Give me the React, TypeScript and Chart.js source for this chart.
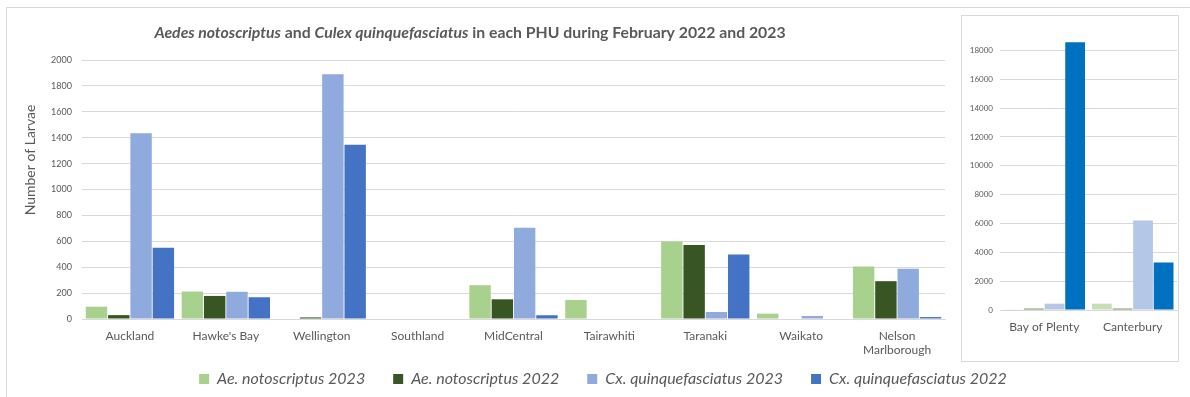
import React, { useEffect, useRef } from "react";
import { Chart, registerables } from "chart.js";

Chart.register(...registerables);

// ---------- Data ----------
const mainCategories: (string | string[])[] = [
  "Auckland",
  "Hawke's Bay",
  "Wellington",
  "Southland",
  "MidCentral",
  "Tairawhiti",
  "Taranaki",
  "Waikato",
  ["Nelson", "Marlborough"],
];
const aeNoto2023 = [95, 212, 0, 0, 261, 147, 599, 41, 405];
const aeNoto2022 = [30, 178, 12, 0, 152, 0, 571, 0, 292];
const cxQuinq2023 = [1435, 210, 1890, 0, 705, 0, 54, 23, 388];
const cxQuinq2022 = [550, 168, 1345, 0, 29, 0, 499, 0, 15];

const insetCategories = ["Bay of Plenty", "Canterbury"];
const insetAeNoto2023 = [50, 440];
const insetAeNoto2022 = [100, 100];
const insetCxQuinq2023 = [440, 6200];
const insetCxQuinq2022 = [18560, 3290];

const seriesLabels = [
  "Ae. notoscriptus 2023",
  "Ae. notoscriptus 2022",
  "Cx. quinquefasciatus 2023",
  "Cx. quinquefasciatus 2022",
];
const mainColors = ["#a9d18e", "#375623", "#8faadc", "#4472c4"];
const insetColors = ["#c5e0b4", "#6f8a57", "#b4c7e7", "#0070c0"];

const titleSegments = [
  { text: "Aedes notoscriptus", italic: true },
  { text: " and ", italic: false },
  { text: "Culex quinquefasciatus", italic: true },
  { text: " in each PHU during February 2022 and 2023", italic: false },
];
const yAxisTitle = "Number of Larvae";

const FONT = "Lato, 'Open Sans', sans-serif";
const TEXT = "#595959";
const GRID = "#d9d9d9";

const titlePlugin = {
  id: "mixedTitle",
  afterLayout(chart: any) {
    // let the two-line category labels extend below the (short) x-axis box
    if (chart.scales.x) chart.scales.x.bottom = chart.height;
  },
  afterDraw(chart: any) {
    const ctx = chart.ctx;
    ctx.save();
    const size = 15.8;
    const fonts = titleSegments.map(
      (s) => `${s.italic ? "italic " : ""}bold ${size}px ${FONT}`
    );
    let total = 0;
    const widths = titleSegments.map((s, i) => {
      ctx.font = fonts[i];
      const w = ctx.measureText(s.text).width;
      total += w;
      return w;
    });
    let x = 463 - total / 2;
    const y = 25;
    ctx.fillStyle = TEXT;
    ctx.textBaseline = "middle";
    ctx.textAlign = "left";
    titleSegments.forEach((s, i) => {
      ctx.font = fonts[i];
      ctx.fillText(s.text, x, y);
      x += widths[i];
    });
    // y-axis title
    ctx.translate(23, 152);
    ctx.rotate(-Math.PI / 2);
    ctx.textAlign = "center";
    ctx.font = `14px ${FONT}`;
    ctx.fillText(yAxisTitle, 0, 0);
    ctx.restore();
  },
};

function MainChart() {
  const ref = useRef<HTMLCanvasElement>(null);
  useEffect(() => {
    if (!ref.current) return;
    const series = [aeNoto2023, aeNoto2022, cxQuinq2023, cxQuinq2022];
    const chart = new Chart(ref.current, {
      type: "bar",
      data: {
        labels: mainCategories,
        datasets: series.map((d, i) => ({
          label: seriesLabels[i],
          data: d,
          backgroundColor: mainColors[i],
          borderWidth: 0,
          categoryPercentage: 0.93,
          barPercentage: 0.96,
          yAxisID: "y",
        })),
      },
      options: {
        animation: false,
        responsive: true,
        maintainAspectRatio: false,
        layout: { padding: { top: 52, left: 14, right: 0, bottom: 0 } },
        plugins: {
          tooltip: { enabled: false },
          title: { display: false },
          legend: {
            position: "bottom",
            labels: {
              boxWidth: 10,
              boxHeight: 10,
              padding: 28,
              color: TEXT,
              font: { family: FONT, size: 16, style: "italic" },
            },
          },
        },
        scales: {
          x: {
            grid: { display: false, drawTicks: false },
            border: { color: GRID },
            ticks: {
              color: TEXT,
              font: { family: FONT, size: 12 },
              padding: 10,
              maxRotation: 0,
              autoSkip: false,
            },
            afterFit(s: any) {
              s.height = 24;
            },
          },
          y: {
            min: 0,
            max: 2000,
            ticks: {
              stepSize: 200,
              color: TEXT,
              font: { family: FONT, size: 9 },
              padding: 10,
              callback: (v: any) => String(v),
            },
            grid: { color: GRID, drawTicks: false },
            border: { display: false },
            afterFit(s: any) {
              s.width = 61;
            },
          },
          yRight: {
            position: "right",
            display: true,
            grid: { display: false },
            ticks: { display: false },
            border: { display: false },
            afterFit(s: any) {
              s.width = 240;
            },
          },
        },
      } as any,
      plugins: [titlePlugin],
    });
    return () => chart.destroy();
  }, []);
  return (
    <div
      style={{
        position: "absolute",
        left: 7,
        top: 8,
        width: 1178,
        height: 389,
      }}
    >
      <canvas ref={ref} />
    </div>
  );
}

function InsetChart() {
  const ref = useRef<HTMLCanvasElement>(null);
  useEffect(() => {
    if (!ref.current) return;
    const series = [
      insetAeNoto2023,
      insetAeNoto2022,
      insetCxQuinq2023,
      insetCxQuinq2022,
    ];
    const chart = new Chart(ref.current, {
      type: "bar",
      data: {
        labels: insetCategories,
        datasets: series.map((d, i) => ({
          label: seriesLabels[i],
          data: d,
          backgroundColor: insetColors[i],
          borderWidth: 0,
          categoryPercentage: 0.93,
          barPercentage: 0.96,
        })),
      },
      options: {
        animation: false,
        responsive: true,
        maintainAspectRatio: false,
        layout: { padding: { top: 20, left: 0, right: 1, bottom: 0 } },
        plugins: {
          tooltip: { enabled: false },
          legend: { display: false },
        },
        scales: {
          x: {
            grid: { display: false, drawTicks: false },
            border: { color: GRID },
            ticks: {
              color: TEXT,
              font: { family: FONT, size: 12 },
              padding: 10,
              maxRotation: 0,
              autoSkip: false,
            },
            afterFit(s: any) {
              s.height = 51;
            },
          },
          y: {
            min: 0,
            max: 19000,
            ticks: {
              stepSize: 1000,
              autoSkip: false,
              color: TEXT,
              font: { family: FONT, size: 8 },
              padding: 7,
              callback: (v: any) => (v % 2000 === 0 ? String(v) : null),
            },
            grid: { color: GRID, drawTicks: false },
            border: { display: false },
            afterFit(s: any) {
              s.width = 38;
            },
          },
        },
      } as any,
    });
    return () => chart.destroy();
  }, []);
  return (
    <div
      style={{
        position: "absolute",
        left: 961,
        top: 15,
        width: 216,
        height: 345,
        border: `1px solid ${GRID}`,
        background: "#fff",
      }}
    >
      <canvas ref={ref} />
    </div>
  );
}

export default function App() {
  return (
    <div>
      <div
        style={{
          position: "absolute",
          left: 6,
          top: 7,
          width: 1183,
          height: 389,
          borderTop: `1px solid ${GRID}`,
          borderLeft: `1px solid ${GRID}`,
          background: "#fff",
        }}
      />
      <MainChart />
      <InsetChart />
    </div>
  );
}
